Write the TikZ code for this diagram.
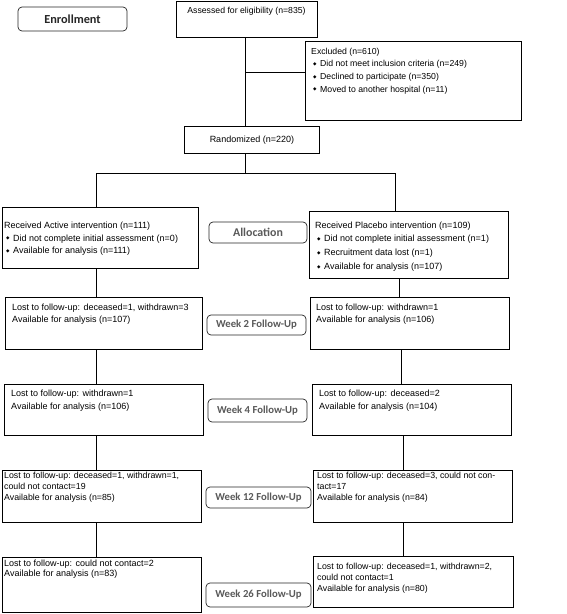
\documentclass[tikz,border=0pt]{standalone}
\usepackage{fontspec}
\setmainfont{Liberation Sans}
\newfontfamily\lblfont{Carlito}
\newfontfamily\symfont{DejaVu Sans}
\newcommand\bul{\hspace*{2pt}\makebox[7pt][l]{\raisebox{1.3pt}{\symfont\fontsize{4.5}{5}\selectfont ◆}}}
\definecolor{lblgray}{HTML}{595959}
\definecolor{lbldark}{HTML}{262626}
\begin{document}
\begin{tikzpicture}[x=1pt,y=-1pt,
  box/.style={draw, line width=0.8pt, inner sep=0pt, anchor=north west},
  txt/.style={anchor=north west, inner sep=0pt, align=left, text=black},
  stage/.style={draw=black!85, rounded corners=4pt, line width=0.7pt, inner sep=0pt, text=lblgray,
     font=\lblfont\bfseries\fontsize{10.7}{12}\selectfont},
  conn/.style={line width=0.8pt}]
\useasboundingbox[fill=white] (0,0) rectangle (567,614);
% stage labels
\node[stage, minimum width=109pt, minimum height=24pt, text=lbldark, font=\lblfont\bfseries\fontsize{12.3}{14}\selectfont] (enr) at (72.5,19) {Enrollment};
\node[stage, minimum width=98pt, minimum height=21pt, font=\lblfont\bfseries\fontsize{11.9}{14}\selectfont] (alloc) at (258,232.5) {Allocation};
\node[stage, minimum width=99pt, minimum height=20pt] (wk2) at (256.5,325) {Week 2 Follow-Up};
\node[stage, minimum width=99pt, minimum height=23pt] (wk4) at (257.5,410.5) {Week 4 Follow-Up};
\node[stage, minimum width=105pt, minimum height=21pt] (wk12) at (258.5,497.5) {Week 12 Follow-Up};
\node[stage, minimum width=105pt, minimum height=24pt] (wk26) at (258.5,595) {Week 26 Follow-Up};
% boxes
\node[box, minimum width=141pt, minimum height=36.5pt] (assess) at (176,0.5) {};
\node[box, minimum width=216pt, minimum height=79pt] (excl) at (305,41) {};
\node[box, minimum width=135pt, minimum height=27pt] (rand) at (184,126) {};
\node[box, minimum width=196pt, minimum height=61pt] (act) at (2,207) {};
\node[box, minimum width=199pt, minimum height=67pt] (plc) at (309,211) {};
\node[box, minimum width=197pt, minimum height=52pt] (w2l) at (5,297) {};
\node[box, minimum width=199pt, minimum height=52pt] (w2r) at (310,297) {};
\node[box, minimum width=199pt, minimum height=51pt] (w4l) at (4,384) {};
\node[box, minimum width=199pt, minimum height=51pt] (w4r) at (312,384) {};
\node[box, minimum width=199pt, minimum height=52pt] (w12l) at (2,470) {};
\node[box, minimum width=199pt, minimum height=52pt] (w12r) at (313,470) {};
\node[box, minimum width=199pt, minimum height=55pt] (w26l) at (2,557) {};
\node[box, minimum width=200pt, minimum height=51pt] (w26r) at (313,556) {};
% texts
\begin{scope}[font=\fontsize{9}{12}\selectfont]
\node[txt, anchor=north, font=\fontsize{8.7}{12}\selectfont] (tassess) at (246.5,7) {Assessed for eligibility (n=835)};
\node[txt, font=\fontsize{8.7}{12.7}\selectfont] (texcl) at (311,47.5) {Excluded (n=610)\\
  \bul Did not meet inclusion criteria (n=249)\\
  \bul Declined to participate (n=350)\\
  \bul Moved to another hospital (n=11)};
\node[txt, anchor=center] (trand) at (rand.center) {Randomized (n=220)};
\node[txt, font=\fontsize{9}{12.5}\selectfont] (tact) at (4,222) {Received Active intervention (n=111)\\
  \bul Did not complete initial assessment (n=0)\\
  \bul Available for analysis (n=111)};
\node[txt, font=\fontsize{9}{13.7}\selectfont] (tplc) at (315,221.5) {Received Placebo intervention (n=109)\\
  \bul Did not complete initial assessment (n=1)\\
  \bul Recruitment data lost (n=1)\\
  \bul Available for analysis (n=107)};
\node[txt] (tw2l) at (12,303.5) {Lost to follow-up: deceased=1, withdrawn=3\\Available for analysis (n=107)};
\node[txt] (tw2r) at (316,303.5) {Lost to follow-up: withdrawn=1\\Available for analysis (n=106)};
\node[txt, font=\fontsize{9}{13}\selectfont] (tw4l) at (11,389.5) {Lost to follow-up: withdrawn=1\\Available for analysis (n=106)};
\node[txt, font=\fontsize{9}{13}\selectfont] (tw4r) at (319,389.5) {Lost to follow-up: deceased=2\\Available for analysis (n=104)};
\node[txt, font=\fontsize{8.8}{11}\selectfont] (tw12l) at (4,471.5) {Lost to follow-up: deceased=1, withdrawn=1,\\could not contact=19\\Available for analysis (n=85)};
\node[txt, font=\fontsize{8.8}{11}\selectfont] (tw12r) at (317,471.5) {Lost to follow-up: deceased=3, could not con-\\tact=17\\Available for analysis (n=84)};
\node[txt, font=\fontsize{9}{10.5}\selectfont] (tw26l) at (4,559.5) {Lost to follow-up: could not contact=2\\Available for analysis (n=83)};
\node[txt, font=\fontsize{8.8}{11}\selectfont] (tw26r) at (317,562.5) {Lost to follow-up: deceased=1, withdrawn=2,\\could not contact=1\\Available for analysis (n=80)};
\end{scope}
% connector guide coordinates
\coordinate (spine) at (245,0);
\coordinate (br) at (245,72);
\coordinate (split) at (245,173);
\coordinate (cl) at (96,0);
\coordinate (c1) at (395,0);
\coordinate (c2) at (399,0);
\coordinate (c3) at (401,0);
\coordinate (c4) at (403,0);
% connectors
\draw[conn] (spine |- assess.south) -- (spine |- rand.north);
\draw[conn] (br) -- (br -| excl.west);
\draw[conn] (spine |- rand.south) -- (split);
\draw[conn] (cl |- act.north) -- (cl |- split) -- (c1 |- split) -- (c1 |- plc.north);
\draw[conn] (cl |- act.south) -- (cl |- w2l.north);
\draw[conn] (c2 |- plc.south) -- (c2 |- w2r.north);
\draw[conn] (cl |- w2l.south) -- (cl |- w4l.north);
\draw[conn] (c3 |- w2r.south) -- (c3 |- w4r.north);
\draw[conn] (cl |- w4l.south) -- (cl |- w12l.north);
\draw[conn] (c4 |- w4r.south) -- (c4 |- w12r.north);
\draw[conn] (cl |- w12l.south) -- (cl |- w26l.north);
\draw[conn] (c4 |- w12r.south) -- (c4 |- w26r.north);
\end{tikzpicture}
\end{document}
